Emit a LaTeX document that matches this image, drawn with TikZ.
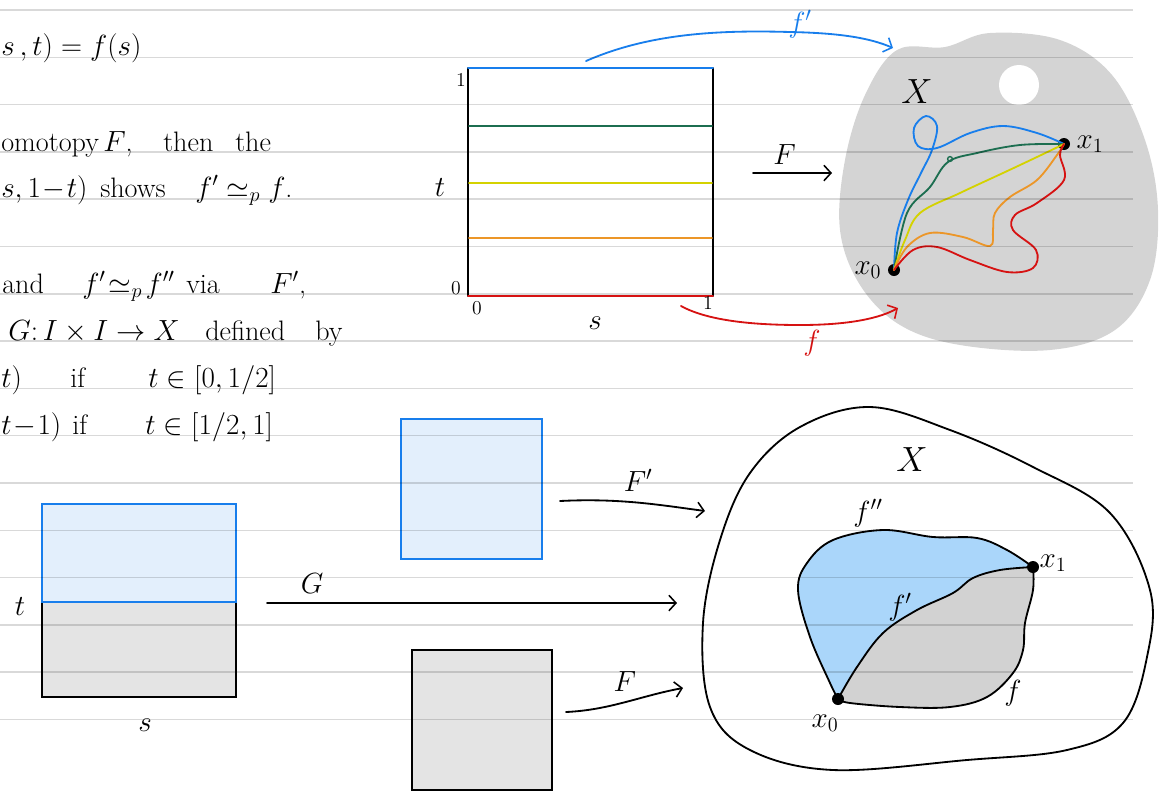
\documentclass[tikz,border=0pt]{standalone}
\usetikzlibrary{arrows.meta,positioning}
\definecolor{penblue}{RGB}{24,126,236}
\definecolor{pengreen}{RGB}{28,110,80}
\definecolor{penyellow}{RGB}{212,210,0}
\definecolor{penorange}{RGB}{236,150,40}
\definecolor{penred}{RGB}{214,18,18}
\definecolor{paleblue}{RGB}{227,239,252}
\definecolor{palegray}{RGB}{228,228,228}
\definecolor{blobgray}{RGB}{212,212,212}
\definecolor{regionblue}{RGB}{170,214,250}
\definecolor{regiongray}{RGB}{210,210,210}
\tikzset{
  ruled/.style={black, opacity=0.15, line width=1.1pt},
  pen/.style={line width=1.3pt, line cap=round, line join=round},
  barb/.style={-{Straight Barb[length=5pt,width=11pt,line width=1.1pt]}},
  dot/.style={circle, fill=black, inner sep=0pt, minimum size=0.3cm},
  sqbox/.style={rectangle, inner sep=0pt, line width=1.4pt},
  note/.style={anchor=base west, inner sep=0pt},
  tiny/.style={font=\fontsize{14}{16}\selectfont, inner sep=1pt},
  big/.style={font=\fontsize{30}{34}\selectfont, inner sep=0pt},
}
\begin{document}
\begin{tikzpicture}[x=0.025cm, y=-0.025cm, font=\fontsize{20}{24}\selectfont]
\useasboundingbox (0,0) rectangle (1160,792);
% notes on the left
\node[note] (n1) at (1,55) {$s\,,t) = f(s)$};
\node[note] (n2a) at (1,151) {omotopy};
\node[note] (n2b) at (103,151) {$F$,};
\node[note] (n2c) at (163,151) {then};
\node[note] (n2d) at (235,151) {the};
\node[note] (n3a) at (1,197) {$s,1\!-\!t)$};
\node[note] (n3b) at (100,197) {shows};
\node[note] (n3c) at (195,197) {$f'\simeq_p f$.};
\node[note] (n4a) at (2,293) {and};
\node[note] (n4b) at (82,293) {$f'\!\simeq_p\! f''$};
\node[note] (n4c) at (186,293) {via};
\node[note] (n4d) at (270,293) {$F'$,};
\node[note] (n5a) at (8,340) {$G\colon I\times I\to X$};
\node[note] (n5b) at (205,340) {defined};
\node[note] (n5c) at (315,340) {by};
\node[note] (n6a) at (1,387) {$t)$};
\node[note] (n6b) at (70,387) {if};
\node[note] (n6c) at (148,387) {$t\in[0,1/2]$};
\node[note] (n7a) at (1,434) {$t\!-\!1)$};
\node[note] (n7b) at (72,434) {if};
\node[note] (n7c) at (145,434) {$t\in[1/2,1]$};
% the square I x I and its paths
\node[sqbox, minimum width=6.075cm, minimum height=5.65cm] (sq) at (590.5,182) {};
\draw[pen] (sq.north west) -- (sq.south west);
\draw[pen] (sq.north east) -- (sq.south east);
\draw[pen, penblue] (sq.north west) -- (sq.north east);
\draw[pen, pengreen] (469,126) -- (712,126);
\draw[pen, penyellow] (469,183) -- (712,183);
\draw[pen, penorange] (469,238) -- (712,238);
\draw[pen, penred] (sq.south west) -- (sq.south east);
\node[tiny] (t1) at (461,80) {1};
\node[tiny] (t0) at (456,288) {0};
\node[tiny] (s0) at (477,308) {0};
\node[tiny] (s1) at (708,303) {1};
\node (sl) at (595,323) {$s$};
\node (tl) at (440,188) {$t$};
\coordinate (Fa) at (753,173); \coordinate (Fb) at (832,173);
\draw[pen, barb] (Fa) -- node[above=2pt, pos=0.4] {$F$} (Fb);
% the space X
\fill[blobgray] plot[smooth cycle, tension=0.6] coordinates {(897,50) (945,47) (990,33) (1060,40) (1112,75) (1145,140) (1158,210) (1150,280) (1115,330) (1050,350) (960,345) (900,325) (860,285) (840,230) (845,160) (865,95)};
\fill[white] (1019,85) circle (0.5cm);
\node[big] (X1) at (917,92) {$X$};
\node[dot] (x0) at (894,270) {};
\node[dot] (x1) at (1064,144) {};
\node[left=1pt of x0] (x0l) {$x_0$};
\node[right=1pt of x1] (x1l) {$x_1$};
\draw[pen, penblue] plot[smooth, tension=0.6] coordinates {(894,270) (897,233) (908,200) (921,173) (932,150) (937,126) (926,116) (914,128) (918,146) (937,148) (970,133) (1003,126) (1037,133) (1064,144)};
\draw[pen, pengreen] plot[smooth, tension=0.6] coordinates {(894,270) (907,213) (930,187) (948,162) (977,153) (1020,145) (1064,144)};
\draw[pengreen, line width=1pt] (950,159) circle (0.06cm);
\draw[pen, penyellow] plot[smooth, tension=0.6] coordinates {(894,270) (905,240) (920,213) (960,193) (1003,173) (1037,157) (1064,144)};
\draw[pen, penorange] plot[smooth, tension=0.6] coordinates {(894,270) (907,247) (930,233) (963,237) (990,246) (993,230) (995,213) (1010,197) (1037,180) (1057,155) (1064,144)};
\draw[pen, penred] plot[smooth, tension=0.6] coordinates {(894,270) (913,250) (937,247) (970,260) (1007,272) (1033,268) (1036,250) (1013,230) (1015,215) (1037,203) (1064,180) (1060,155) (1064,144)};
% images of the top and bottom edges
\coordinate (fpa) at (586,61); \coordinate (fpb) at (893,48);
\draw[pen, penblue, barb] (fpa) .. controls (650,33) and (720,30) .. (790,32) .. controls (840,33) and (870,38) .. (fpb);
\node[penblue, inner sep=0pt] (fpl) at (800,24) {$f'$};
\coordinate (fa) at (681,306); \coordinate (fb) at (898,308);
\draw[pen, penred, barb] (fa) .. controls (710,322) and (760,325) .. (800,325) .. controls (850,325) and (880,318) .. (fb);
\node[penred] (fl) at (812,343) {$f$};
% the square for G
\node[sqbox, fill=palegray, draw=black, minimum width=4.85cm, minimum height=2.375cm] (Gbot) at (139,649.5) {};
\node[sqbox, fill=paleblue, draw=penblue, minimum width=4.85cm, minimum height=2.45cm] (Gtop) at (139,553) {};
\node (Gt) at (20,607) {$t$};
\node (Gs) at (145,725) {$s$};
\coordinate (Ga) at (267,603); \coordinate (Gb) at (677,603);
\draw[pen, barb] (Ga) -- node[above=3pt, pos=0.11] {$G$} (Gb);
% the squares for F' and F
\node[sqbox, fill=paleblue, draw=penblue, minimum width=3.525cm, minimum height=3.5cm] (Fpsq) at (471.5,489) {};
\node[sqbox, fill=palegray, draw=black, minimum width=3.5cm, minimum height=3.5cm] (Fsq) at (482,720) {};
\coordinate (Fpa) at (560,501); \coordinate (Fpb) at (705,511);
\draw[pen, barb] (Fpa) .. controls (620,498) and (660,505) .. node[above=4pt] {$F'$} (Fpb);
\coordinate (Fc) at (566,712); \coordinate (Fd) at (683,688);
\draw[pen, barb] (Fc) .. controls (610,710) and (640,696) .. node[above=4pt] {$F$} (Fd);
% the space X with f, f', f''
\draw[pen] plot[smooth cycle, tension=0.6] coordinates {(870,407) (950,430) (1033,467) (1110,513) (1150,590) (1147,657) (1123,723) (1067,750) (967,760) (833,770) (750,750) (710,707) (703,623) (720,540) (750,473) (800,427)};
\node[big] (X2) at (912,460) {$X$};
\fill[regionblue] plot[smooth, tension=0.6] coordinates {(838,699) (830,683) (810,637) (798,590) (807,563) (833,540) (883,530) (933,537) (977,538) (1007,550) (1033,567)} -- plot[smooth, tension=0.6] coordinates {(1033,567) (1000,570) (973,578) (953,593) (917,610) (883,633) (857,667) (838,699)} -- cycle;
\fill[regiongray] plot[smooth, tension=0.6] coordinates {(838,699) (857,667) (883,633) (917,610) (953,593) (973,578) (1000,570) (1033,567)} -- plot[smooth, tension=0.6] coordinates {(1033,567) (1033,590) (1025,623) (1023,650) (1013,673) (987,697) (950,707) (900,707) (850,703) (838,699)} -- cycle;
\draw[pen] plot[smooth, tension=0.6] coordinates {(838,699) (830,683) (810,637) (798,590) (807,563) (833,540) (883,530) (933,537) (977,538) (1007,550) (1033,567)};
\draw[pen] plot[smooth, tension=0.6] coordinates {(838,699) (857,667) (883,633) (917,610) (953,593) (973,578) (1000,570) (1033,567)};
\draw[pen] plot[smooth, tension=0.6] coordinates {(1033,567) (1033,590) (1025,623) (1023,650) (1013,673) (987,697) (950,707) (900,707) (850,703) (838,699)};
\node[dot] (y0) at (838,699) {};
\node[dot] (y1) at (1033,567) {};
\node (y0l) at (825,723) {$x_0$};
\node (y1l) at (1053,563) {$x_1$};
\node (fppl) at (868,513) {$f''$};
\node (fpl2) at (900,607) {$f'$};
\node (fl2) at (1013,693) {$f$};
% ruled paper
\foreach \k in {0,...,15} \draw[ruled] (0,{10+47.3*\k}) -- (1133,{10+47.3*\k});
\end{tikzpicture}
\end{document}
